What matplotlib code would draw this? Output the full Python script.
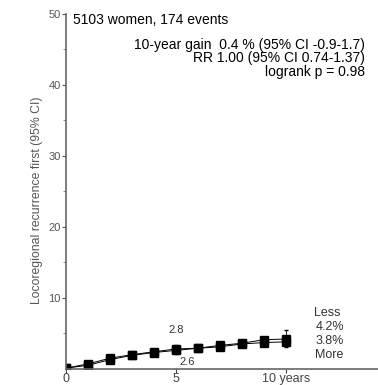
import numpy as np
import matplotlib.pyplot as plt

plt.rcParams['font.family'] = ['Liberation Sans', 'DejaVu Sans']

# data
years = [0, 1, 2, 3, 4, 5, 6, 7, 8, 9, 10]
less = [0.1, 0.7, 1.5, 2.0, 2.4, 2.8, 2.9, 3.3, 3.6, 4.1, 4.2]
more = [0.1, 0.5, 1.3, 1.9, 2.3, 2.6, 2.9, 3.1, 3.5, 3.7, 3.8]
ci_years = [5, 10]
less_ci_hi = [3.4, 5.5]
more_ci_lo = [2.1, 3.1]

fig = plt.figure(figsize=(3.78, 3.85), dpi=100)
ax = fig.add_axes([0.175, 0.042, 0.825, 0.922])

#curves
ax.plot(years, less, '-s', color='black', lw=0.7, ms=5.5)
ax.plot(years, more, '-s', color='black', lw=0.7, ms=5.5)
#confidence bars
for i, yr in enumerate(ci_years):
    j = years.index(yr)
    ax.errorbar(yr, less[j], yerr=[[0], [less_ci_hi[i]-less[j]]], color='black', lw=0.6, capsize=1.5)
    ax.errorbar(yr, more[j], yerr=[[more[j]-more_ci_lo[i]], [0]], color='black', lw=0.6, capsize=1.5)

ax.set_xlim(0, 14.2)
ax.set_ylim(0, 50)
ax.set_xticks([0, 5, 10])
ax.set_xticklabels(['0', '5', '10 years'])
ax.set_yticks([10, 20, 30, 40, 50])
ax.set_yticks([5, 15, 25, 35, 45], minor=True)
ax.tick_params(axis='y', which='major', length=3, labelsize=8, colors='#555555', pad=1)
ax.tick_params(axis='y', which='minor', length=2, colors='#777777')
ax.tick_params(axis='x', length=3, labelsize=9, colors='#444444', pad=0)
for s in ['top', 'right']:
    ax.spines[s].set_visible(False)
for s in ['left', 'bottom']:
    ax.spines[s].set_color('#666666')
    ax.spines[s].set_linewidth(1.2)

ax.set_ylabel('Locoregional recurrence first (95% CI)', fontsize=8.8, color='#555555')
ax.yaxis.set_label_coords(-0.075, 0.475)

#annotations
ax.text(0.3, 49.2, '5103 women, 174 events', fontsize=10, va='center')
ax.text(13.6, 45.6, '10-year gain  0.4 % (95% CI -0.9-1.7)', fontsize=10, ha='right', va='center')
ax.text(13.6, 43.8, 'RR 1.00 (95% CI 0.74-1.37)', fontsize=10, ha='right', va='center')
ax.text(13.6, 41.8, 'logrank p = 0.98', fontsize=10, ha='right', va='center')

ax.text(5, 5.5, '2.8', fontsize=8, ha='center', va='center', color='#333333')
ax.text(5.5, 1.0, '2.6', fontsize=8, ha='center', va='center', color='#333333')
ax.text(11.9, 7.9, 'Less', fontsize=9, ha='center', va='center', color='#333333')
ax.text(12.0, 5.9, '4.2%', fontsize=9, ha='center', va='center', color='#333333')
ax.text(12.0, 3.9, '3.8%', fontsize=9, ha='center', va='center', color='#333333')
ax.text(12.0, 2.0, 'More', fontsize=9, ha='center', va='center', color='#333333')

fig.savefig('out.png', dpi=100)
